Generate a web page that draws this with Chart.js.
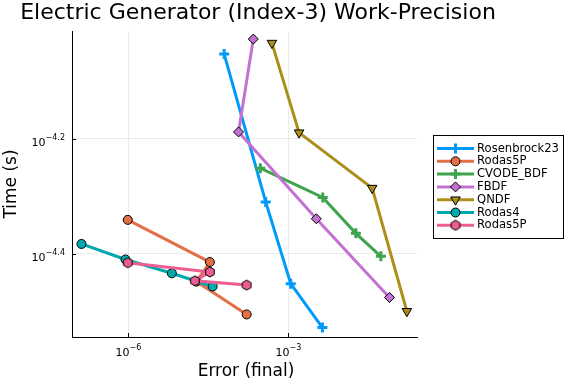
<!DOCTYPE html>
<html>
<head>
<meta charset="utf-8">
<script src="https://cdn.jsdelivr.net/npm/chart.js@4"></script>
<style>
  html, body { margin: 0; padding: 0; background: #fff; }
  #wrap { width: 576px; height: 384px; }
</style>
</head>
<body>
<div id="wrap"><canvas id="chart" width="576" height="384"></canvas></div>
<script>
// series names and colours
const names = ["Rosenbrock23", "Rodas5P", "CVODE_BDF", "FBDF", "QNDF", "Rodas4", "Rodas5P"];
const colors = ["#009AFA", "#E36F47", "#3EA44E", "#C371D2", "#AC8E18", "#00A9AD", "#ED5E93"];

// error (x) and time (y) per series
const rosenErr = [6.3e-5, 3.77e-4, 1.11e-3, 4.35e-3];
const rosenTime = [8.87e-5, 4.90e-5, 3.53e-5, 2.96e-5];
const rodas5pErr = [9.86e-7, 3.40e-5, 1.91e-5, 1.66e-4];
const rodas5pTime = [4.56e-5, 3.85e-5, 3.56e-5, 3.12e-5];
const cvodeErr = [2.99e-4, 4.42e-3, 1.84e-2, 5.41e-2];
const cvodeTime = [5.61e-5, 4.99e-5, 4.32e-5, 3.94e-5];
const fbdfErr = [2.21e-4, 1.17e-4, 3.35e-3, 7.83e-2];
const fbdfTime = [9.42e-5, 6.49e-5, 4.58e-5, 3.34e-5];
const qndfErr = [4.94e-4, 1.59e-3, 3.72e-2, 0.166];
const qndfTime = [9.27e-5, 6.47e-5, 5.18e-5, 3.16e-5];
const rodas4Err = [1.34e-7, 8.93e-7, 6.59e-6, 3.83e-5];
const rodas4Time = [4.14e-5, 3.89e-5, 3.68e-5, 3.49e-5];
const rodas5p2Err = [9.86e-7, 3.40e-5, 1.78e-5, 1.66e-4];
const rodas5p2Time = [3.84e-5, 3.70e-5, 3.57e-5, 3.51e-5];

// axis ticks (as exponents)
const xTickExp = [-6, -3];
const yTickExp = [-4.2, -4.4];
const xMin = 8.9e-8, xMax = 0.257;
const yMin = 2.85e-5, yMax = 9.73e-5;

const errs = [rosenErr, rodas5pErr, cvodeErr, fbdfErr, qndfErr, rodas4Err, rodas5p2Err];
const times = [rosenTime, rodas5pTime, cvodeTime, fbdfTime, qndfTime, rodas4Time, rodas5p2Time];

// hexagon marker
function hexMarker(color) {
  const c = document.createElement('canvas');
  c.width = 12; c.height = 12;
  const g = c.getContext('2d');
  g.beginPath();
  for (let i = 0; i < 6; i++) {
    const a = Math.PI / 6 + i * Math.PI / 3;
    const px = 6 + 5 * Math.cos(a), py = 6 + 5 * Math.sin(a);
    if (i === 0) g.moveTo(px, py); else g.lineTo(px, py);
  }
  g.closePath();
  g.fillStyle = color; g.fill();
  g.lineWidth = 1; g.strokeStyle = '#000'; g.stroke();
  return c;
}

const styles = [
  {pointStyle: 'cross', pointRadius: 5, pointBorderWidth: 3, edge: colors[0]},
  {pointStyle: 'circle', pointRadius: 4.5, pointBorderWidth: 1, edge: '#000'},
  {pointStyle: 'cross', pointRadius: 5, pointBorderWidth: 3, edge: colors[2]},
  {pointStyle: 'rectRot', pointRadius: 5, pointBorderWidth: 1, edge: '#000'},
  {pointStyle: 'triangle', pointRadius: 5.5, pointBorderWidth: 1, edge: '#000', rotation: 180},
  {pointStyle: 'circle', pointRadius: 4.5, pointBorderWidth: 1, edge: '#000'},
  {pointStyle: hexMarker(colors[6]), pointRadius: 5, pointBorderWidth: 1, edge: '#000'},
];

const datasets = names.map((n, i) => ({
  label: n,
  data: errs[i].map((e, j) => ({x: e, y: times[i][j]})),
  borderColor: colors[i],
  backgroundColor: colors[i],
  borderWidth: 3,
  pointStyle: styles[i].pointStyle,
  pointRadius: styles[i].pointRadius,
  pointBorderWidth: styles[i].pointBorderWidth,
  pointBorderColor: styles[i].edge,
  pointBackgroundColor: colors[i],
  pointRotation: styles[i].rotation || 0,
  tension: 0,
  fill: false,
  order: 10 - i,
}));

function drawPow(ctx, exp, x, y, align) {
  const base = '10', sup = '\u2212' + String(Math.abs(exp));
  ctx.font = '11px "DejaVu Sans"';
  const wb = ctx.measureText(base).width;
  ctx.font = '8px "DejaVu Sans"';
  const ws = ctx.measureText(sup).width;
  let left = align === 'right' ? x - wb - ws : x - (wb + ws) / 2;
  ctx.textAlign = 'left';
  ctx.textBaseline = 'alphabetic';
  ctx.fillStyle = '#000';
  ctx.font = '11px "DejaVu Sans"';
  ctx.fillText(base, left, y);
  ctx.font = '8px "DejaVu Sans"';
  ctx.fillText(sup, left + wb, y - 6);
}

const decor = {
  id: 'decor',
  afterDraw(chart) {
    const ctx = chart.ctx;
    const xs = chart.scales.x, ys = chart.scales.y, a = chart.chartArea;
    ctx.save();
    // tick marks inside
    ctx.strokeStyle = '#000'; ctx.lineWidth = 1;
    xTickExp.forEach(e => {
      const px = Math.round(xs.getPixelForValue(Math.pow(10, e))) + 0.5;
      ctx.beginPath(); ctx.moveTo(px, a.bottom); ctx.lineTo(px, a.bottom - 4); ctx.stroke();
      drawPow(ctx, e, px, a.bottom + 19, 'center');
    });
    yTickExp.forEach(e => {
      const py = Math.round(ys.getPixelForValue(Math.pow(10, e))) + 0.5;
      ctx.beginPath(); ctx.moveTo(a.left, py); ctx.lineTo(a.left + 4, py); ctx.stroke();
      drawPow(ctx, e, a.left - 7, py + 6, 'right');
    });
    // title
    ctx.fillStyle = '#000';
    ctx.font = '22px "DejaVu Sans"';
    ctx.textAlign = 'center'; ctx.textBaseline = 'middle';
    ctx.fillText('Electric Generator (Index-3) Work-Precision', 258, 13);
    // axis titles
    ctx.font = '17px "DejaVu Sans"';
    ctx.fillText('Error (final)', 246, 372);
    ctx.save();
    ctx.translate(12, 184);
    ctx.rotate(-Math.PI / 2);
    ctx.fillText('Time (s)', 0, 0);
    ctx.restore();
    // legend
    const lx = 433.5, ly = 135.5, lw = 130, lh = 103;
    ctx.fillStyle = '#fff';
    ctx.fillRect(lx, ly, lw, lh);
    ctx.strokeStyle = '#000'; ctx.lineWidth = 1;
    ctx.strokeRect(lx, ly, lw, lh);
    chart.data.datasets.forEach((ds, i) => {
      const y = 148.5 + i * 12.8;
      ctx.strokeStyle = ds.borderColor; ctx.lineWidth = 3;
      ctx.beginPath(); ctx.moveTo(437, y); ctx.lineTo(474, y); ctx.stroke();
      ctx.fillStyle = ds.pointBackgroundColor;
      ctx.strokeStyle = ds.pointBorderColor;
      ctx.lineWidth = ds.pointBorderWidth;
      Chart.helpers.drawPoint(ctx, {
        pointStyle: ds.pointStyle, rotation: ds.pointRotation,
        radius: ds.pointRadius, borderWidth: ds.pointBorderWidth
      }, 455.5, y);
      ctx.fillStyle = '#000';
      ctx.font = '11.6px "DejaVu Sans"';
      ctx.textAlign = 'left'; ctx.textBaseline = 'middle';
      ctx.fillText(ds.label, 477, y);
    });
    ctx.restore();
  }
};

new Chart(document.getElementById('chart').getContext('2d'), {
  type: 'line',
  data: { datasets: datasets },
  options: {
    responsive: false,
    animation: false,
    layout: { padding: { left: 72, right: 159, top: 31, bottom: 47 } },
    plugins: { legend: { display: false }, title: { display: false }, tooltip: { enabled: false } },
    scales: {
      x: {
        type: 'logarithmic', min: xMin, max: xMax,
        afterBuildTicks: s => { s.ticks = xTickExp.map(e => ({value: Math.pow(10, e)})); },
        ticks: { display: false },
        grid: { color: 'rgba(0,0,0,0.08)', drawTicks: false },
        border: { display: true, color: '#000', width: 1 },
      },
      y: {
        type: 'logarithmic', min: yMin, max: yMax,
        afterBuildTicks: s => { s.ticks = yTickExp.map(e => ({value: Math.pow(10, e)})); },
        ticks: { display: false },
        grid: { color: 'rgba(0,0,0,0.08)', drawTicks: false },
        border: { display: true, color: '#000', width: 1 },
      },
    },
  },
  plugins: [decor],
});
</script>
</body>
</html>
